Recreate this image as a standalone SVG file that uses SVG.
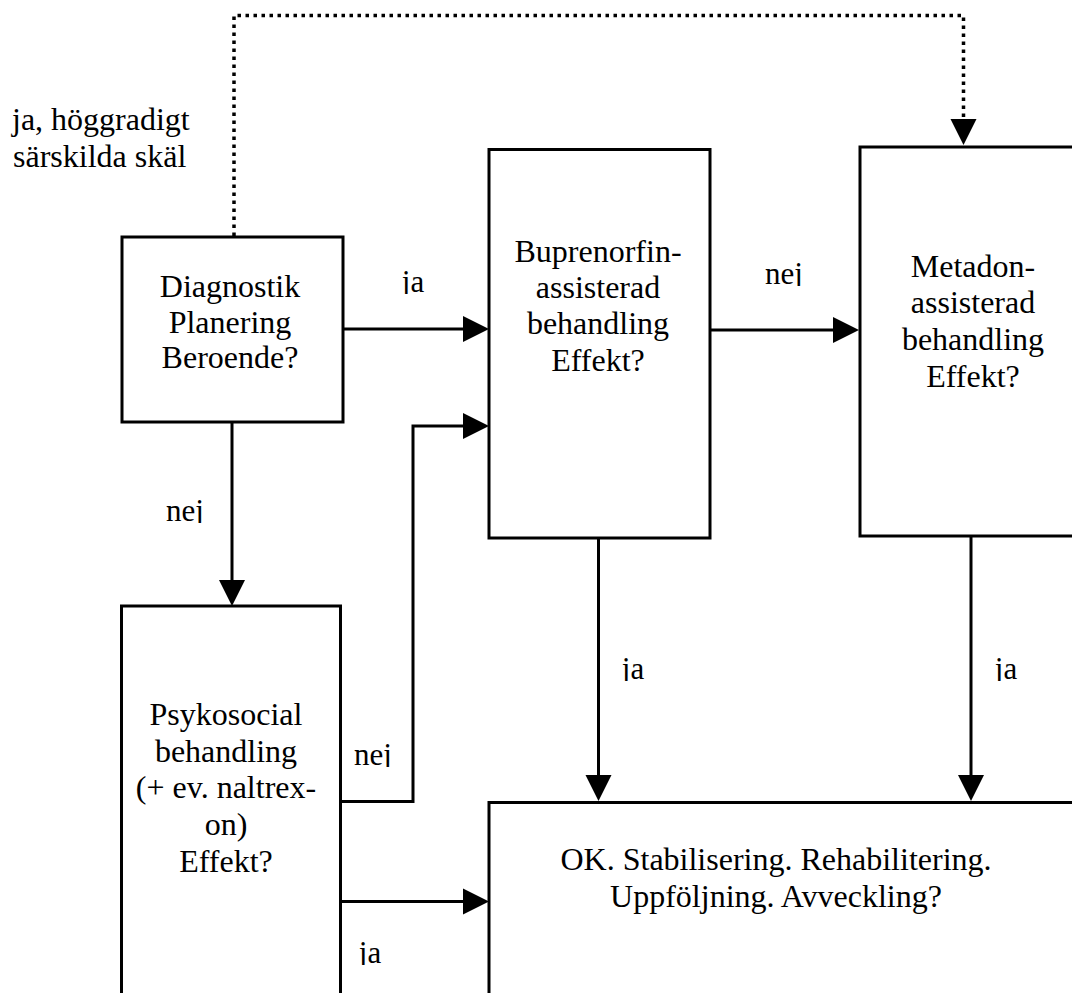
<svg xmlns="http://www.w3.org/2000/svg" width="1072" height="993" viewBox="0 0 1072 993">
<style>
.box{fill:#fff;stroke:#000;stroke-width:3}
.t{font-family:"Liberation Serif","Times New Roman",serif;font-size:32px;fill:#000;text-anchor:middle}
.lbl{font-family:"Liberation Serif","Times New Roman",serif;font-size:31px;fill:#000;text-anchor:middle}
.top{font-family:"Liberation Serif","Times New Roman",serif;font-size:32px;fill:#000}
.ln{fill:none;stroke:#000;stroke-width:3}
.dot{fill:none;stroke:#000;stroke-width:3.5;stroke-dasharray:3.5 4.5}
</style>
<defs>
<marker id="ah" markerUnits="userSpaceOnUse" markerWidth="28" markerHeight="28" refX="1" refY="13" orient="auto" overflow="visible">
<path d="M0,0 L26,13 L0,26 Z" fill="#000"/>
</marker>
<clipPath id="cut" clipPathUnits="objectBoundingBox"><rect x="-0.1" y="0" width="1.2" height="0.86"/></clipPath>
</defs>

<g id="connectors">
<path class="dot" d="M234,236 V15.5 H963.5 V118"/>
<path d="M950.5,119 L976.5,119 L963.5,145 Z" fill="#000"/>
<path class="ln" d="M343,329 H464" marker-end="url(#ah)"/>
<path class="ln" d="M710,330 H834" marker-end="url(#ah)"/>
<path class="ln" d="M232,422 V581" marker-end="url(#ah)"/>
<path class="ln" d="M340,801.5 H413 V426 H464" marker-end="url(#ah)"/>
<path class="ln" d="M340,901.5 H464" marker-end="url(#ah)"/>
<path class="ln" d="M598.5,538 V776" marker-end="url(#ah)"/>
<path class="ln" d="M971,536 V776" marker-end="url(#ah)"/>
</g>

<g id="label-top">
<text class="top" x="12" y="130">ja, höggradigt</text>
<text class="top" x="13" y="167">särskilda skäl</text>
</g>

<g id="labels">
<text class="lbl" x="413" y="292" clip-path="url(#cut)">ja</text>
<text class="lbl" x="784" y="284" clip-path="url(#cut)">nej</text>
<text class="lbl" x="185" y="521" clip-path="url(#cut)">nej</text>
<text class="lbl" x="373" y="765" clip-path="url(#cut)">nej</text>
<text class="lbl" x="370" y="963" clip-path="url(#cut)">ja</text>
<text class="lbl" x="633" y="679" clip-path="url(#cut)">ja</text>
<text class="lbl" x="1006" y="679" clip-path="url(#cut)">ja</text>
</g>

<g id="diagnostik">
<rect class="box" x="122" y="237" width="221" height="185"/>
<text class="t" x="230" y="297">Diagnostik</text>
<text class="t" x="230" y="332.5">Planering</text>
<text class="t" x="230" y="368">Beroende?</text>
</g>

<g id="buprenorfin">
<rect class="box" x="489" y="149.5" width="221" height="388.5"/>
<text class="t" x="598" y="262">Buprenorfin-</text>
<text class="t" x="598" y="297.5">assisterad</text>
<text class="t" x="598" y="333.5">behandling</text>
<text class="t" x="598" y="371">Effekt?</text>
</g>

<g id="metadon">
<rect class="box" x="860" y="147" width="240" height="389"/>
<text class="t" x="973" y="277">Metadon-</text>
<text class="t" x="973" y="313">assisterad</text>
<text class="t" x="973" y="350">behandling</text>
<text class="t" x="973" y="387">Effekt?</text>
</g>

<g id="psykosocial">
<rect class="box" x="121.5" y="606" width="219" height="420"/>
<text class="t" x="226" y="725">Psykosocial</text>
<text class="t" x="226" y="762">behandling</text>
<text class="t" x="226" y="798">(+ ev. naltrex-</text>
<text class="t" x="226" y="835">on)</text>
<text class="t" x="226" y="872">Effekt?</text>
</g>

<g id="ok">
<rect class="box" x="489" y="802.5" width="620" height="240"/>
<text class="t" x="776" y="870">OK. Stabilisering. Rehabilitering.</text>
<text class="t" x="776" y="907">Uppföljning. Avveckling?</text>
</g>
</svg>
